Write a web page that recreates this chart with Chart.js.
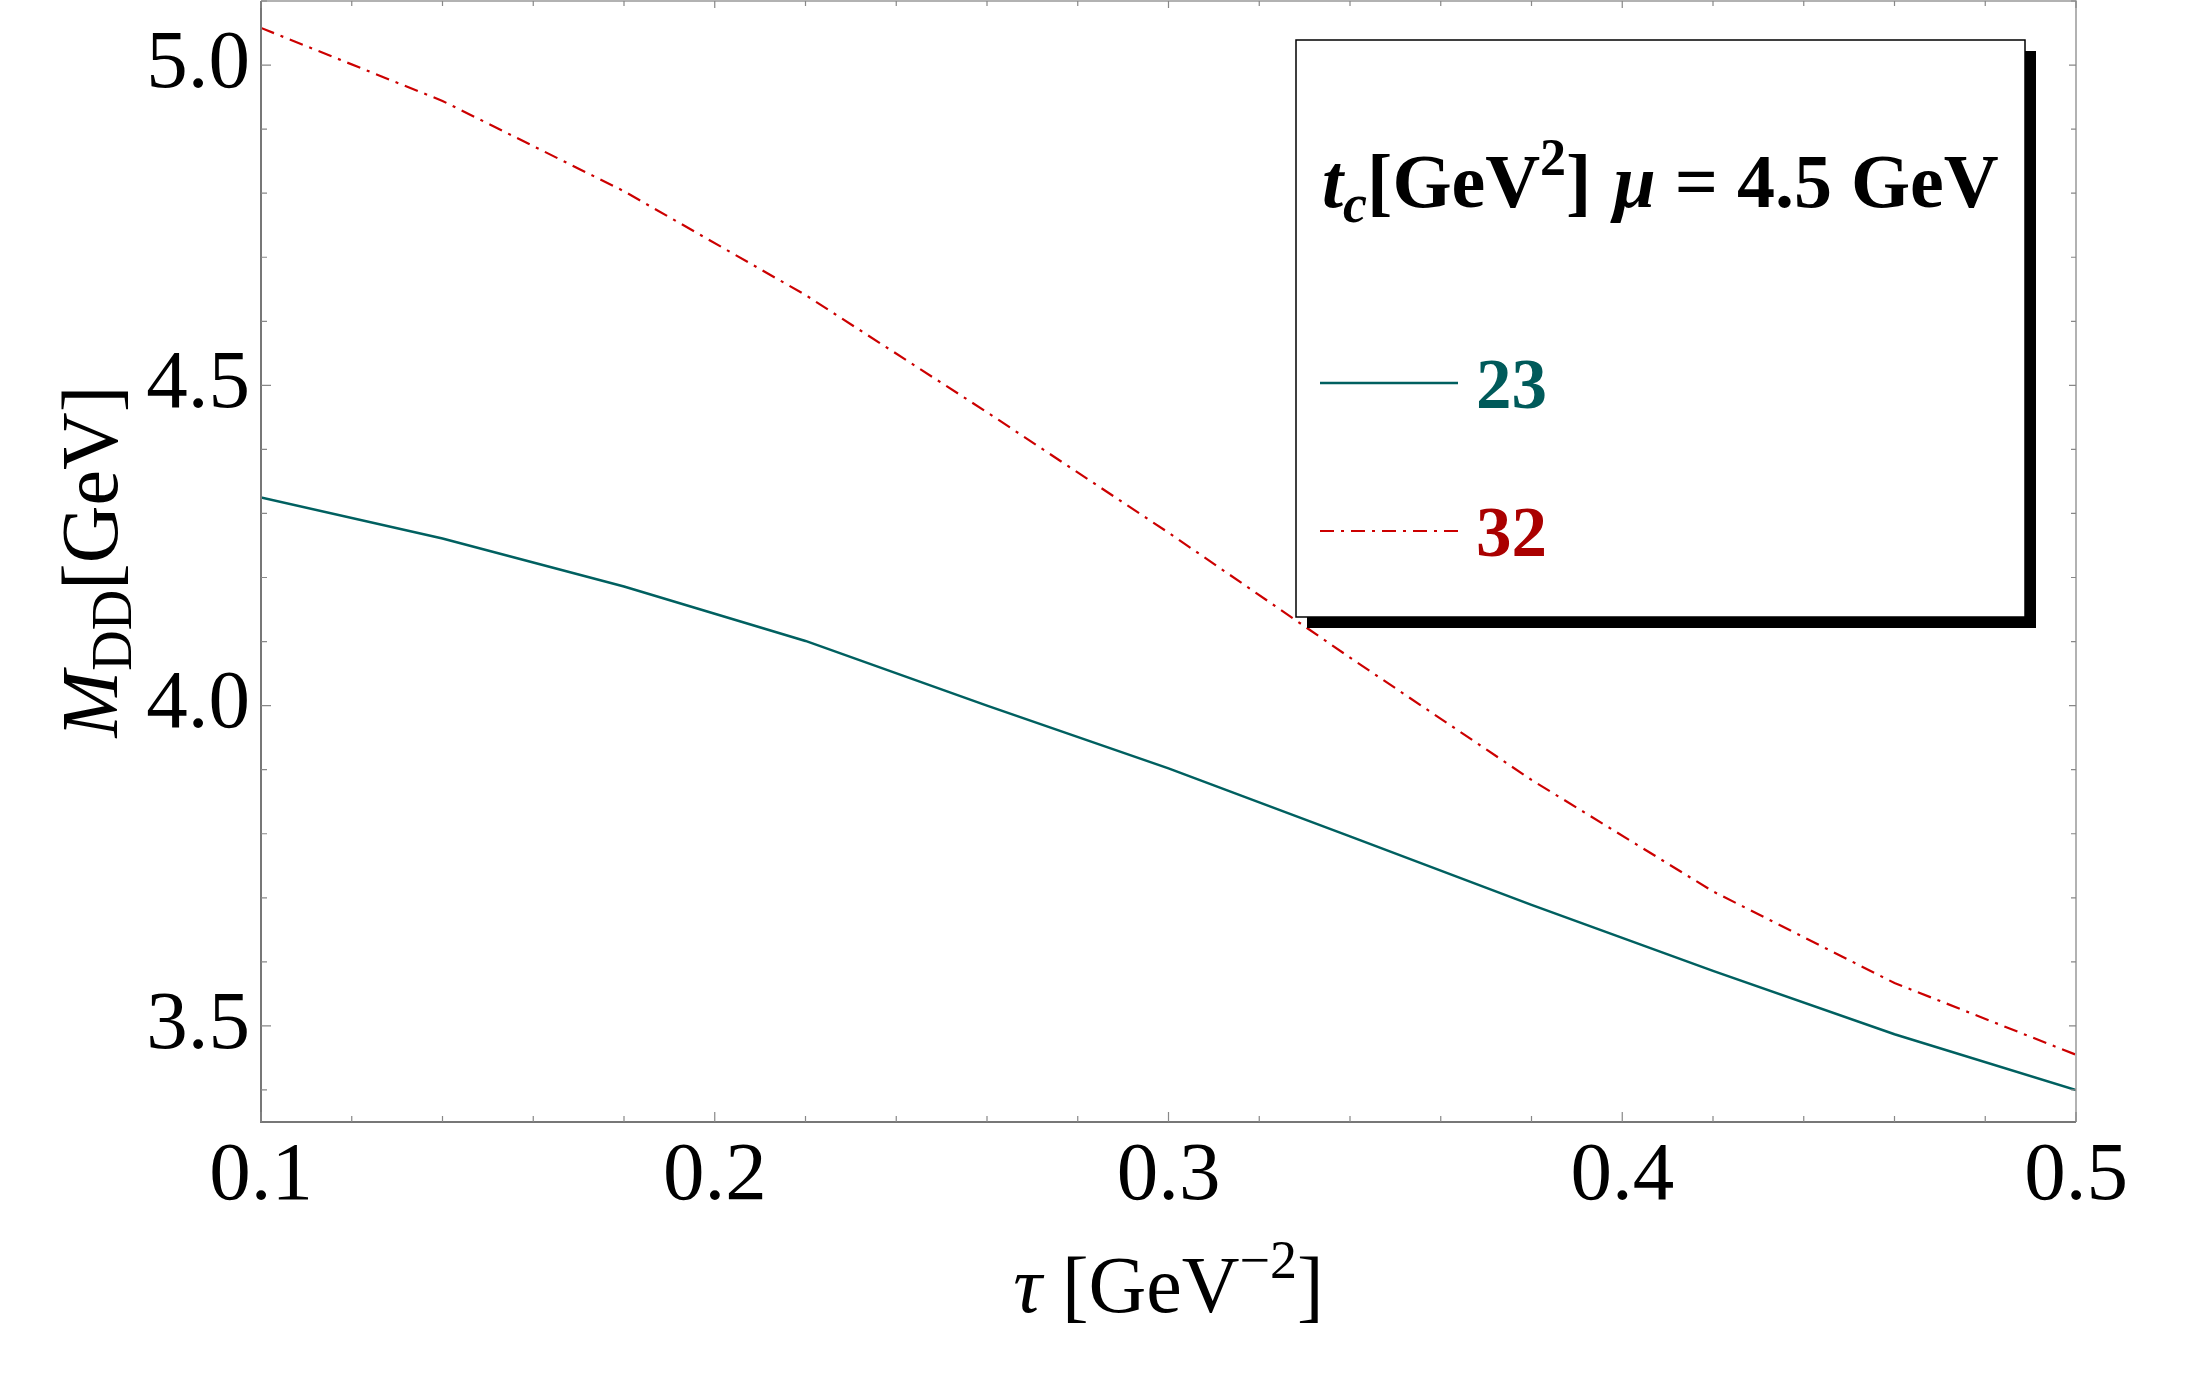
<!DOCTYPE html>
<html>
<head>
<meta charset="utf-8">
<script src="https://cdn.jsdelivr.net/npm/chart.js@4.4.1/dist/chart.umd.min.js"></script>
<style>
  html, body { margin: 0; padding: 0; background: #fff; }
  #wrap { width: 2205px; height: 1378px; }
</style>
</head>
<body>
<div id="wrap"><canvas id="chart" width="2205" height="1378"></canvas></div>
<script>
// tau [GeV^-2] sample points and M_DD [GeV]
const tau    = [0.10, 0.14, 0.18, 0.22, 0.26, 0.30, 0.34, 0.38, 0.42, 0.46, 0.50];
const mass23 = [4.325, 4.261, 4.186, 4.101, 4.000, 3.902, 3.796, 3.689, 3.586, 3.487, 3.400];
const mass32 = [5.058, 4.944, 4.803, 4.641, 4.458, 4.270, 4.075, 3.884, 3.710, 3.567, 3.455];
const seriesLabels = ['23', '32'];

const xTicks = [0.1, 0.2, 0.3, 0.4, 0.5];
const yTicks = [3.5, 4.0, 4.5, 5.0];

const TEAL = '#006060';
const RED = '#cc0000';
const DASH = [14, 7, 3, 7];
const SERIF = '"Liberation Serif", "Times New Roman", serif';

function points(ys) {
  return tau.map((t, i) => ({ x: t, y: ys[i] }));
}

// draw a row of text pieces with different fonts, returns width
function runs(ctx, parts, x, y, measureOnly) {
  let w = 0;
  parts.forEach(p => {
    ctx.font = p.font;
    if (!measureOnly) ctx.fillText(p.text, x + w, y + (p.dy || 0));
    w += ctx.measureText(p.text).width + (p.gap || 0);
  });
  return w;
}

const framePlugin = {
  id: 'frame',
  afterDraw(chart) {
    const ctx = chart.ctx;
    const a = chart.chartArea;
    const xs = chart.scales.x, ys = chart.scales.y;
    ctx.save();

    // box around the plot
    ctx.lineWidth = 1.5;
    ctx.strokeStyle = '#999';
    ctx.beginPath();
    ctx.moveTo(a.left, a.top); ctx.lineTo(a.right, a.top); ctx.lineTo(a.right, a.bottom);
    ctx.stroke();
    ctx.strokeStyle = '#777';
    ctx.lineWidth = 2;
    ctx.beginPath();
    ctx.moveTo(a.left, a.top); ctx.lineTo(a.left, a.bottom); ctx.lineTo(a.right, a.bottom);
    ctx.stroke();

    // inward ticks
    ctx.strokeStyle = '#888';
    ctx.lineWidth = 1.2;
    ctx.beginPath();
    for (let i = 0; i <= 20; i++) {
      const px = xs.getPixelForValue(0.1 + i * 0.02);
      const major = i % 5 === 0;
      ctx.moveTo(px, a.bottom); ctx.lineTo(px, a.bottom - (major ? 10 : 6));
      ctx.moveTo(px, a.top); ctx.lineTo(px, a.top + (major ? 7 : 5));
    }
    for (let i = 0; i <= 17; i++) {
      const v = 3.4 + i * 0.1;
      const py = ys.getPixelForValue(v);
      const major = i % 5 === 1;
      ctx.moveTo(a.left, py); ctx.lineTo(a.left + (major ? 10 : 6), py);
      ctx.moveTo(a.right, py); ctx.lineTo(a.right - (major ? 7 : 5), py);
    }
    ctx.stroke();

    // axis titles
    ctx.fillStyle = '#000';
    ctx.textBaseline = 'alphabetic';
    const xt = [
      { text: 'τ', font: 'italic 80px ' + SERIF },
      { text: ' [GeV', font: '80px ' + SERIF },
      { text: '−2', font: '54px ' + SERIF, dy: -34 },
      { text: ']', font: '80px ' + SERIF }
    ];
    const xw = runs(ctx, xt, 0, 0, true);
    runs(ctx, xt, (a.left + a.right) / 2 - xw / 2, 1312);

    const yt = [
      { text: 'M', font: 'italic 80px ' + SERIF },
      { text: 'DD', font: '56px ' + SERIF, dy: 14 },
      { text: '[GeV]', font: '80px ' + SERIF }
    ];
    const yw = runs(ctx, yt, 0, 0, true);
    ctx.save();
    ctx.translate(117, (a.top + a.bottom) / 2);
    ctx.rotate(-Math.PI / 2);
    runs(ctx, yt, -yw / 2, 0);
    ctx.restore();

    // legend box with drop shadow
    const L = { x: 1296, y: 40, w: 729, h: 577 };
    ctx.fillStyle = '#000';
    ctx.fillRect(L.x + 11, L.y + 11, L.w, L.h);
    ctx.fillStyle = '#fff';
    ctx.fillRect(L.x, L.y, L.w, L.h);
    ctx.strokeStyle = '#000';
    ctx.lineWidth = 1.5;
    ctx.strokeRect(L.x, L.y, L.w, L.h);

    ctx.fillStyle = '#000';
    runs(ctx, [
      { text: 't', font: 'italic bold 76px ' + SERIF },
      { text: 'c', font: 'italic bold 54px ' + SERIF, dy: 15 },
      { text: '[GeV', font: 'bold 76px ' + SERIF },
      { text: '2', font: 'bold 52px ' + SERIF, dy: -32 },
      { text: '] ', font: 'bold 76px ' + SERIF, gap: 3 },
      { text: 'μ', font: 'italic bold 76px ' + SERIF },
      { text: ' = 4.5 GeV', font: 'bold 76px ' + SERIF }
    ], 1322, 207);

    const entries = [
      { y: 383, color: TEAL, text: '#005a5a', dash: [] },
      { y: 531, color: RED, text: '#aa0000', dash: DASH }
    ];
    entries.forEach((e, i) => {
      ctx.strokeStyle = e.color;
      ctx.lineWidth = i === 0 ? 2.5 : 2.2;
      ctx.setLineDash(e.dash);
      ctx.beginPath();
      ctx.moveTo(1320, e.y); ctx.lineTo(1458, e.y);
      ctx.stroke();
      ctx.setLineDash([]);
      ctx.fillStyle = e.text;
      ctx.font = 'bold 71px ' + SERIF;
      ctx.fillText(seriesLabels[i], 1476, e.y + 25);
    });

    ctx.restore();
  }
};

const ctx = document.getElementById('chart').getContext('2d');
const chart = new Chart(ctx, {
  type: 'line',
  data: {
    datasets: [
      {
        label: seriesLabels[0],
        data: points(mass23),
        borderColor: TEAL,
        borderWidth: 2.5,
        pointRadius: 0,
        tension: 0,
        fill: false
      },
      {
        label: seriesLabels[1],
        data: points(mass32),
        borderColor: RED,
        borderWidth: 2.2,
        borderDash: DASH,
        pointRadius: 0,
        tension: 0,
        fill: false
      }
    ]
  },
  options: {
    responsive: false,
    animation: false,
    devicePixelRatio: 1,
    layout: { padding: { left: 0, top: 1, right: 129, bottom: 0 } },
    plugins: {
      legend: { display: false },
      tooltip: { enabled: false }
    },
    scales: {
      x: {
        type: 'linear',
        min: 0.1,
        max: 0.5,
        grid: { display: false },
        border: { display: false },
        afterBuildTicks: s => { s.ticks = xTicks.map(v => ({ value: v })); },
        afterFit: s => { s.height = 256; s.paddingLeft = 0; s.paddingRight = 0; },
        ticks: {
          padding: -3,
          color: '#000',
          maxRotation: 0,
          font: { family: SERIF, size: 83 },
          callback: v => v.toFixed(1)
        }
      },
      y: {
        type: 'linear',
        min: 3.35,
        max: 5.1,
        grid: { display: false },
        border: { display: false },
        afterBuildTicks: s => { s.ticks = yTicks.map(v => ({ value: v })); },
        afterFit: s => { s.width = 261; s.paddingTop = 0; s.paddingBottom = 0; },
        ticks: {
          padding: 3,
          color: '#000',
          font: { family: SERIF, size: 83 },
          callback: v => v.toFixed(1)
        }
      }
    }
  },
  plugins: [framePlugin]
});
</script>
</body>
</html>
